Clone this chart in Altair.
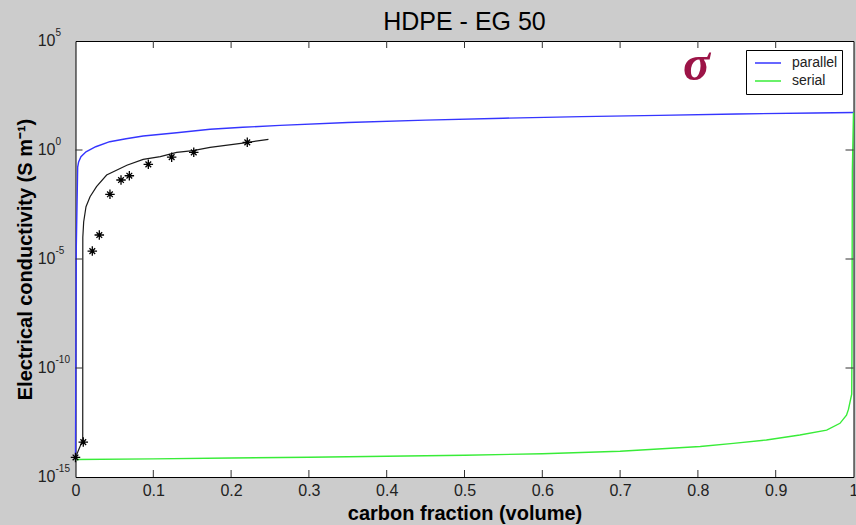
import altair as alt
import pandas as pd

# ---------------- data ----------------
title_text = "HDPE - EG 50"
x_title = "carbon fraction (volume)"
y_title = "Electrical conductivity (S m\u207b\u00b9)"
series_names = ["parallel", "serial"]
series_colors = ["#3535ff", "#38ec38"]

parallel_x = [0, 0.001, 0.0028, 0.004, 0.007, 0.0135, 0.026, 0.044, 0.065, 0.087,
              0.13, 0.173, 0.215, 0.263, 0.35, 0.45, 0.55, 0.65, 0.75, 0.85, 0.95, 1.0]
parallel_y = [6.3e-15, 3.2e-5, 0.166, 0.28, 0.49, 0.83, 1.41, 2.4, 3.3, 4.4,
              6.2, 8.9, 11.0, 13.5, 18.2, 23.4, 28.8, 33.9, 38.9, 44.7, 50.1, 52.5]

serial_x = [0, 0.1, 0.2, 0.3, 0.4, 0.5, 0.6, 0.7, 0.803, 0.8455, 0.888, 0.931,
            0.9655, 0.9826, 0.991, 0.9935, 0.9977, 0.998, 0.9985, 1.0]
serial_y = [6.3e-15, 6.8e-15, 7.4e-15, 8.1e-15, 8.9e-15, 1.0e-14, 1.17e-14, 1.51e-14,
            2.5e-14, 3.5e-14, 5.0e-14, 8.5e-14, 1.41e-13, 2.9e-13, 6.9e-13, 1.26e-12,
            6.3e-12, 3.2e-10, 0.1, 52.5]

model_x = [0, 0.0093, 0.0094, 0.0105, 0.0135, 0.0187, 0.027, 0.040, 0.066, 0.087,
           0.109, 0.13, 0.151, 0.173, 0.22, 0.248]
model_y = [7.9e-15, 5.0e-14, 1e-4, 5.0e-4, 2.5e-3, 7.2e-3, 0.021, 0.071, 0.20, 0.37,
           0.50, 0.78, 0.93, 1.32, 2.19, 3.09]

meas_x = [0, 0.01, 0.0216, 0.0306, 0.0443, 0.0585, 0.0692, 0.0936, 0.1236, 0.152, 0.2208]
meas_y = [7.9e-15, 4.0e-14, 2.3e-5, 1.26e-4, 9.3e-3, 0.042, 0.066, 0.22, 0.47, 0.78, 2.24]

x_tick_values = [0, 0.1, 0.2, 0.3, 0.4, 0.5, 0.6, 0.7, 0.8, 0.9, 1]
y_tick_values = [1e-15, 1e-10, 1e-5, 1, 1e5]
y_tick_base = ["10", "10", "10", "10", "10"]
y_tick_exp = ["-15", "-10", "-5", "0", "5"]
inner_x_ticks = [0.1, 0.2, 0.3, 0.4, 0.5, 0.6, 0.7, 0.8, 0.9]
inner_y_ticks = [1e-10, 1e-5, 1]

sigma_text = ["\u03c3"]
sigma_x = [0.798]
sigma_y = [1.6e3]

# ---------------- tables ----------------
lines_df = pd.DataFrame({
    "x": parallel_x + serial_x,
    "y": parallel_y + serial_y,
    "series": [series_names[0]] * len(parallel_x) + [series_names[1]] * len(serial_x),
})
model_df = pd.DataFrame({"x": model_x, "y": model_y})
meas_df = pd.DataFrame({"x": meas_x, "y": meas_y})
ylab_df = pd.DataFrame({"y": y_tick_values, "base": y_tick_base, "exp": y_tick_exp})
xt_df = pd.DataFrame({"x": inner_x_ticks})
yt_df = pd.DataFrame({"y": inner_y_ticks})
sig_df = pd.DataFrame({"x": sigma_x, "y": sigma_y, "t": sigma_text})

W, H = 778, 436
TICKF = "'Liberation Sans Narrow', 'Liberation Sans', Arial, sans-serif"
MAINF = "'Liberation Sans', Arial, sans-serif"

xs = alt.Scale(domain=[0, 1], nice=False, zero=False)
ys = alt.Scale(type="log", domain=[1e-15, 1e5], nice=False)

x_axis = alt.Axis(values=x_tick_values, format="~g", ticks=False, domain=False, grid=False,
                  labelFont=TICKF, labelFontSize=16, labelColor="#222222", labelPadding=5,
                  labelFlush=False, labelOverlap=False,
                  title=x_title, titleFont=MAINF, titleFontSize=20, titleFontWeight="bold",
                  titleColor="#000000", titleX=W / 2, titleY=36, titleBaseline="middle",
                  titleAlign="center")
y_axis = alt.Axis(labels=False, ticks=False, domain=False, grid=False,
                  title=y_title, titleFont=MAINF, titleFontSize=20, titleFontWeight="bold",
                  titleColor="#000000", titleX=-50, titleY=H / 2, titleAngle=270,
                  titleBaseline="middle", titleAlign="center")

X = alt.X("x:Q", scale=xs, axis=x_axis)
Y = alt.Y("y:Q", scale=ys, axis=y_axis)

model = alt.Chart(model_df).mark_line(color="#1a1a1a", strokeWidth=1.2).encode(x=X, y=Y)

lines = alt.Chart(lines_df).mark_line(strokeWidth=1.4).encode(
    x=X, y=Y,
    color=alt.Color("series:N",
                    scale=alt.Scale(domain=series_names, range=series_colors),
                    legend=alt.Legend(title=None, orient="none", legendX=670.5, legendY=9,
                                      fillColor="white", strokeColor="black",
                                      padding=4, symbolType="stroke", symbolSize=676,
                                      symbolOffset=4, clipHeight=18,
                                      symbolStrokeWidth=1.5, labelFont=MAINF,
                                      labelFontSize=14, labelColor="#222222",
                                      labelOffset=10, rowPadding=0)),
    detail="series:N",
)

star_path = "M-1,0L1,0M0,-1L0,1M-0.6,-0.6L0.6,0.6M-0.6,0.6L0.6,-0.6"
stars = alt.Chart(meas_df).mark_point(shape=star_path, size=90, filled=False,
                                      color="black", strokeWidth=1.3, opacity=1).encode(x=X, y=Y)

tick_color = "#333333"
bot_ticks = alt.Chart(xt_df).mark_rule(color=tick_color).encode(
    x=X, y=alt.value(H), y2=alt.value(H - 7))
top_ticks = alt.Chart(xt_df).mark_rule(color=tick_color).encode(
    x=X, y=alt.value(0), y2=alt.value(7))
left_ticks = alt.Chart(yt_df).mark_rule(color=tick_color).encode(
    y=Y, x=alt.value(0), x2=alt.value(7))
right_ticks = alt.Chart(yt_df).mark_rule(color=tick_color).encode(
    y=Y, x=alt.value(W), x2=alt.value(W - 8))

ylab_base = alt.Chart(ylab_df).mark_text(font=TICKF, fontSize=16, align="right",
                                         baseline="middle", color="#222222").encode(
    y=Y, x=alt.value(-20), text="base:N")
ylab_exp = alt.Chart(ylab_df).mark_text(font=TICKF, fontSize=10, align="left",
                                        baseline="middle", dy=-8, color="#222222").encode(
    y=Y, x=alt.value(-20), text="exp:N")

sigma = alt.Chart(sig_df).mark_text(font="'Liberation Serif', serif", fontSize=50,
                                    fontStyle="italic", fontWeight="bold",
                                    color="#9c1447", align="center",
                                    baseline="alphabetic").encode(x=X, y=Y, text="t:N")

chart = alt.layer(
    model, lines, stars, bot_ticks, top_ticks, left_ticks, right_ticks,
    ylab_base, ylab_exp, sigma
).properties(
    width=W, height=H,
    title=alt.TitleParams(title_text, font=MAINF, fontSize=25, fontWeight="normal",
                          color="#000000", anchor="middle", baseline="bottom",
                          offset=0, dy=32),
    autosize=alt.AutoSizeParams(type="none"),
    padding={"left": 75.5, "top": 41, "right": 2.5, "bottom": 48},
    background="#cccccc",
).configure_view(stroke="black", strokeWidth=1, fill="white")

chart.save("out.html", embed_options={"renderer": "svg", "actions": False})
